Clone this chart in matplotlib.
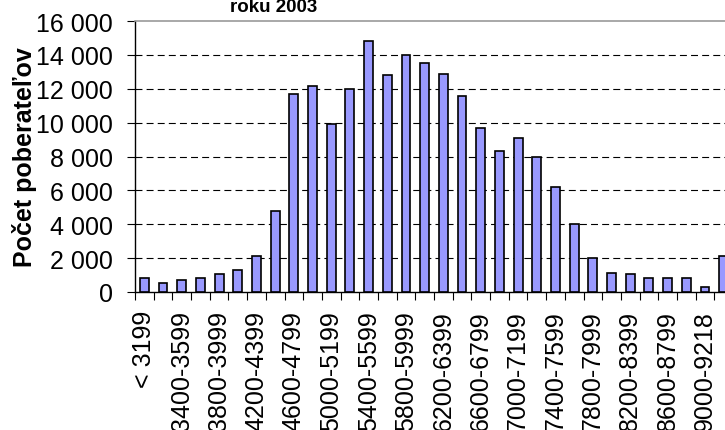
import matplotlib
matplotlib.use("Agg")
import matplotlib.pyplot as plt
from matplotlib.ticker import FuncFormatter, FixedLocator

plt.rcParams['font.family'] = ['Liberation Sans', 'DejaVu Sans']
plt.rcParams['lines.scale_dashes'] = False

categories = ["< 3199", "3200-3399", "3400-3599", "3600-3799", "3800-3999",
              "4000-4199", "4200-4399", "4400-4599", "4600-4799", "4800-4999",
              "5000-5199", "5200-5399", "5400-5599", "5600-5799", "5800-5999",
              "6000-6199", "6200-6399", "6400-6599", "6600-6799", "6800-6999",
              "7000-7199", "7200-7399", "7400-7599", "7600-7799", "7800-7999",
              "8000-8199", "8200-8399", "8400-8599", "8600-8799", "8800-8999",
              "9000-9218", "> 9218"]
values = [800, 550, 700, 800, 1050, 1300, 2100, 4800, 11700, 12150,
          9900, 12000, 14800, 12800, 14000, 13500, 12900, 11550, 9700, 8300,
          9100, 7950, 6200, 4000, 2000, 1150, 1050, 800, 800, 800,
          300, 2100]
y_ticks = [0, 2000, 4000, 6000, 8000, 10000, 12000, 14000, 16000]
title_text = "roku 2003"
y_label = "Počet poberateľov"

fig = plt.figure(figsize=(7.25, 4.31), dpi=100)
ax = fig.add_axes([135/725, 1 - 293/431, (733 - 135)/725, (293 - 22)/431])

x = list(range(len(categories)))
ax.bar(x, values, width=0.476, color='#9999FF', edgecolor='black', linewidth=1.2, zorder=3)

ax.set_xlim(-0.5, len(categories) - 0.5)
ax.set_ylim(0, 16000)

# gridlines
for t in y_ticks[1:-1]:
    ax.axhline(t, color='black', linewidth=0.8, dashes=(5, 3), zorder=1)

ax.set_yticks(y_ticks)
ax.yaxis.set_major_formatter(FuncFormatter(lambda v, p: f"{int(v):,}".replace(",", " ")))
ax.tick_params(axis='y', direction='out', length=6, width=0.8, labelsize=18, pad=10, color='black')

ax.set_xticks(x[::2])
ax.set_xticklabels(categories[::2], rotation=90, fontsize=18, va='top')
ax.tick_params(axis='x', which='major', length=0, pad=13)
ax.xaxis.set_minor_locator(FixedLocator([i - 0.5 for i in range(len(categories) + 1)]))
ax.tick_params(axis='x', which='minor', direction='out', length=6, width=0.8, color='black')

for s in ['left', 'bottom']:
    ax.spines[s].set_color('black')
    ax.spines[s].set_linewidth(1.0)
ax.spines['top'].set_color('#999999')
ax.spines['top'].set_linewidth(1.2)
ax.spines['right'].set_visible(False)

ax.set_ylabel(y_label, fontsize=18, fontweight='bold')
ax.yaxis.set_label_coords(-(135 - 37) / 598, 0.5)

fig.text(274/725, 1 - 12/431, title_text, ha='center', va='baseline', fontsize=13.5, fontweight='bold')

fig.savefig("out.png", dpi=100)
